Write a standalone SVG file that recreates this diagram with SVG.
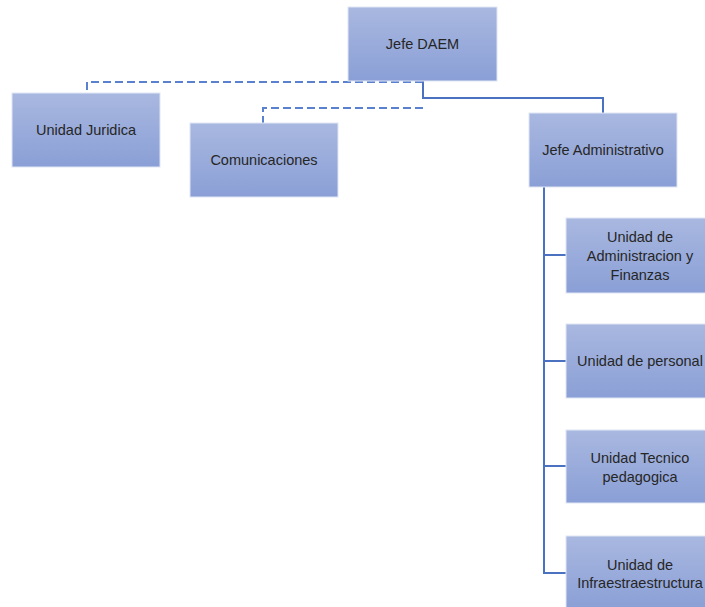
<svg xmlns="http://www.w3.org/2000/svg" width="705" height="607" viewBox="0 0 705 607">
<defs>
<linearGradient id="g" x1="0" y1="0" x2="0" y2="1">
<stop offset="0" stop-color="#a9b8e0"/>
<stop offset="1" stop-color="#8a9fd6"/>
</linearGradient>
</defs>
<style>
.box{fill:url(#g);stroke:#dfe5f4;stroke-width:1}
.t{font-family:"Liberation Sans",Arial,sans-serif;font-size:14.5px;fill:#262626;text-anchor:middle;dominant-baseline:central}
.solid{fill:none;stroke:#4a72c0;stroke-width:2}
.dash{fill:none;stroke:#5a80d0;stroke-width:2;stroke-dasharray:8 4}
</style>
<rect width="705" height="607" fill="#ffffff"/>
<g id="connectors">
<polyline class="dash" points="423,82 87,82 87,93"/>
<polyline class="dash" points="423,108 263,108 263,123"/>
<polyline class="solid" points="423,81 423,98 603,98 603,113"/>
<polyline class="solid" points="544,187 544,573"/>
<line class="solid" x1="543" y1="255" x2="566" y2="255"/>
<line class="solid" x1="543" y1="361" x2="566" y2="361"/>
<line class="solid" x1="543" y1="466" x2="566" y2="466"/>
<line class="solid" x1="543" y1="573" x2="566" y2="573"/>
</g>
<g id="jefe-daem">
<rect class="box" x="348" y="7" width="149" height="74"/>
<text class="t" x="422.5" y="44">Jefe DAEM</text>
</g>
<g id="unidad-juridica">
<rect class="box" x="12" y="93" width="148" height="74"/>
<text class="t" x="86" y="130">Unidad Juridica</text>
</g>
<g id="comunicaciones">
<rect class="box" x="190" y="123" width="148" height="74"/>
<text class="t" x="264" y="160">Comunicaciones</text>
</g>
<g id="jefe-administrativo">
<rect class="box" x="529" y="113" width="148" height="74"/>
<text class="t" x="603" y="150">Jefe Administrativo</text>
</g>
<g id="unidad-admin-finanzas">
<rect class="box" x="566" y="218" width="148" height="75"/>
<text class="t" x="640" y="237">Unidad de</text>
<text class="t" x="640" y="256">Administracion y</text>
<text class="t" x="640" y="275">Finanzas</text>
</g>
<g id="unidad-personal">
<rect class="box" x="566" y="324" width="148" height="74"/>
<text class="t" x="640" y="361">Unidad de personal</text>
</g>
<g id="unidad-tecnico">
<rect class="box" x="566" y="430" width="148" height="73"/>
<text class="t" x="640" y="458">Unidad Tecnico</text>
<text class="t" x="640" y="477">pedagogica</text>
</g>
<g id="unidad-infra">
<rect class="box" x="566" y="536" width="148" height="74"/>
<text class="t" x="640" y="565">Unidad de</text>
<text class="t" x="640" y="583">Infraestraestructura</text>
</g>
</svg>
